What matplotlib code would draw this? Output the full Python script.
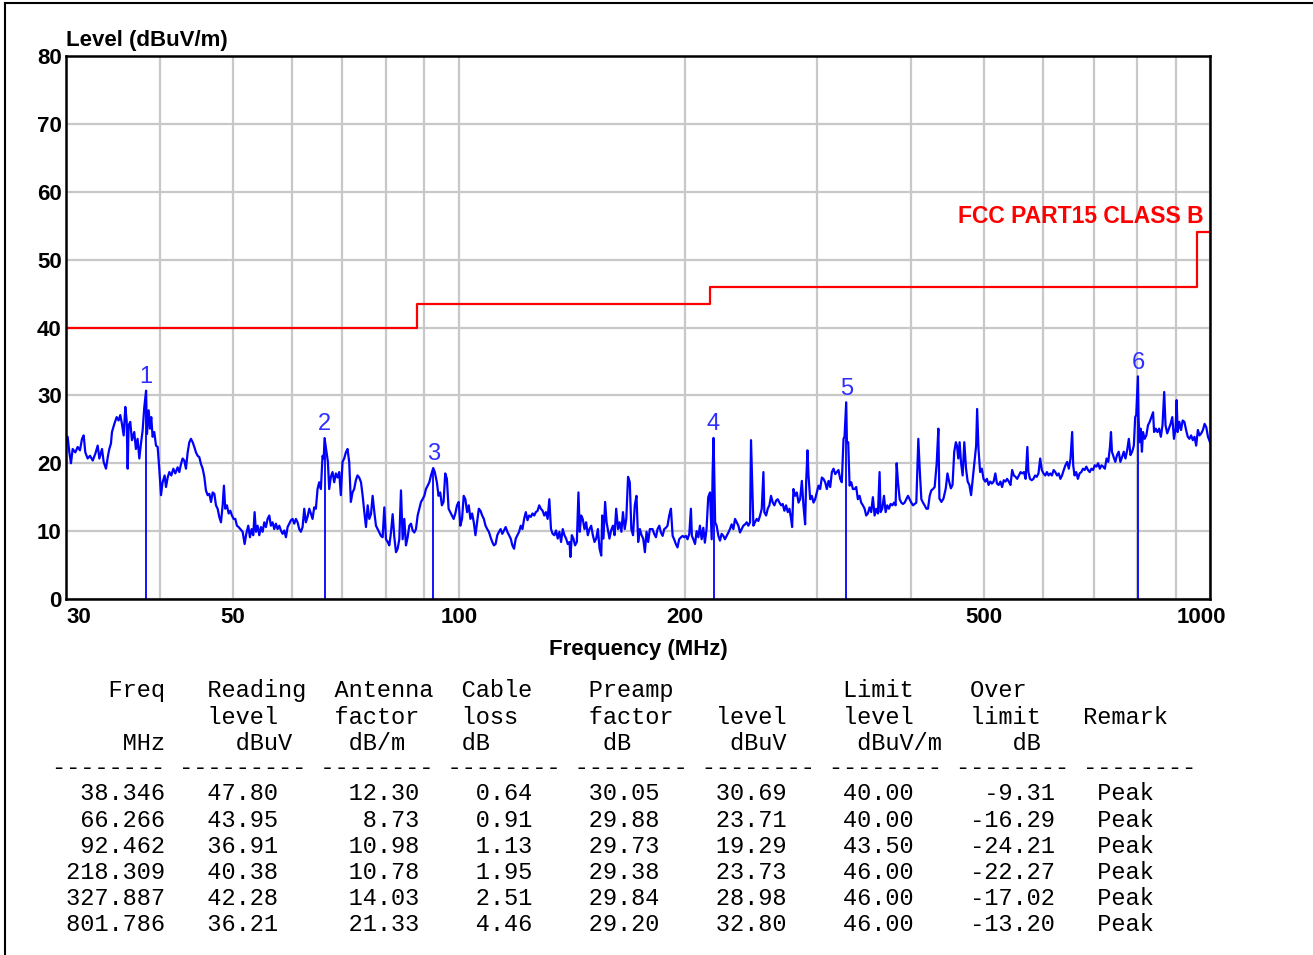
import matplotlib
matplotlib.use("Agg")
import matplotlib.pyplot as plt
from matplotlib.lines import Line2D
from matplotlib.ticker import NullFormatter
from matplotlib.transforms import ScaledTranslation

plt.rcParams['font.family'] = ['Liberation Sans', 'DejaVu Sans']

W, H = 1313, 955

# ---- scan trace (MHz, dBuV/m) ----
f_30_74 = [30.00, 30.15, 30.31, 30.46, 30.62, 30.87, 31.09, 31.31, 31.51, 31.67,
           31.83, 32.06, 32.29, 32.56, 32.82, 33.06, 33.23, 33.50, 33.67, 33.91,
           34.12, 34.26, 34.43, 34.54, 34.79, 35.04, 35.25, 35.43, 35.61, 35.80,
           35.98, 36.13, 36.24, 36.35, 36.53, 36.72, 36.98, 37.17, 37.36, 37.56,
           37.75, 37.94, 38.14, 38.346, 38.45, 38.65, 38.81, 38.96, 39.12, 39.32,
           39.53, 39.73, 39.93, 40.14, 40.34, 40.59, 40.76, 40.97, 41.18, 41.43,
           41.69, 41.94, 42.24, 42.46, 42.68, 42.89, 43.11, 43.33, 43.56, 43.78,
           44.00, 44.23, 44.46, 44.68, 44.91, 45.14, 45.37, 45.61, 45.84, 46.07,
           46.31, 46.55, 46.79, 47.03, 47.27, 47.51, 47.75, 47.99, 48.24, 48.49,
           48.68, 48.88, 49.13, 49.39, 49.64, 49.89, 50.15, 50.41, 50.66, 50.92,
           51.18, 51.55, 51.87, 52.13, 52.45, 52.72, 52.99, 53.26, 53.48, 53.70,
           53.97, 54.25, 54.53, 54.81, 55.09, 55.37, 55.65, 55.94, 56.22, 56.51,
           56.80, 57.09, 57.38, 57.68, 57.97, 58.27, 58.57, 58.87, 59.17, 59.47,
           59.78, 60.08, 60.39, 60.70, 61.01, 61.32, 61.63, 61.95, 62.27, 62.58,
           62.90, 63.23, 63.55, 63.87, 64.20, 64.53, 64.86, 65.19, 65.53, 65.86,
           66.10, 66.266, 66.67, 66.95, 67.22, 67.56, 67.91, 68.26, 68.61, 68.96,
           69.31, 69.66, 70.02, 70.38, 70.74, 71.10, 71.47, 71.83, 72.20, 72.57,
           72.94, 73.31, 73.69]
v_30_74 = [23.1, 23.9, 21.6, 20.0, 22.1, 21.6, 22.4, 21.9, 23.6, 24.1,
           21.6, 20.7, 21.1, 20.4, 21.4, 22.6, 20.7, 22.1, 20.2, 19.2,
           21.1, 22.1, 22.9, 24.6, 25.8, 26.8, 26.3, 27.1, 25.8, 24.1,
           28.3, 26.3, 19.2, 25.6, 26.1, 23.4, 24.6, 22.1, 23.6, 20.7,
           22.9, 24.8, 28.3, 30.69, 24.3, 27.8, 25.1, 26.8, 23.9, 24.6,
           22.6, 22.4, 19.2, 15.3, 17.2, 18.2, 16.5, 17.9, 18.7, 18.2,
           19.2, 18.5, 19.4, 18.7, 19.9, 20.7, 20.4, 19.2, 21.6, 23.1,
           23.6, 23.1, 22.4, 21.6, 21.1, 20.9, 19.9, 19.2, 18.0, 16.0,
           15.3, 15.5, 14.3, 15.7, 15.5, 13.8, 13.3, 12.1, 11.3, 13.8,
           16.7, 13.3, 13.8, 12.6, 13.0, 12.3, 11.8, 11.8, 10.8, 10.6,
           10.3, 9.9, 8.1, 9.6, 10.8, 9.1, 10.3, 9.4, 12.8, 9.9,
           10.8, 9.4, 10.6, 9.9, 11.3, 10.6, 11.8, 12.3, 10.8, 11.3,
           10.3, 11.1, 10.3, 10.8, 10.1, 9.6, 10.1, 9.1, 10.6, 11.1,
           11.6, 11.8, 11.1, 11.8, 11.3, 10.3, 9.9, 10.6, 13.3, 11.3,
           12.1, 13.3, 12.6, 11.8, 13.5, 13.3, 16.2, 17.2, 16.2, 21.1,
           20.7, 23.71, 21.6, 20.2, 16.2, 18.0, 18.7, 17.2, 18.5, 17.9,
           18.7, 15.3, 20.2, 20.7, 21.6, 22.1, 20.2, 14.3, 15.7, 16.2,
           17.5, 18.2, 17.9]

f_74_180 = [74.10, 74.48, 74.86, 75.24, 75.63, 76.01, 76.40, 76.79, 77.19, 77.58,
            77.98, 78.38, 78.78, 79.18, 79.59, 80.00, 80.41, 80.82, 81.23, 81.65,
            82.07, 82.49, 82.91, 83.33, 83.76, 84.19, 84.62, 85.05, 85.49, 85.93,
            86.37, 86.81, 87.25, 87.70, 88.15, 88.60, 89.06, 89.51, 89.97, 90.43,
            90.89, 91.36, 91.83, 92.462, 92.90, 93.50, 93.98, 94.46, 94.95, 95.44,
            95.93, 96.42, 96.92, 97.42, 97.92, 98.43, 98.94, 99.45, 99.96, 100.48,
            101.00, 101.52, 102.04, 102.57, 103.10, 103.63, 104.16, 104.70, 105.24, 105.78,
            106.33, 106.88, 107.43, 107.98, 108.54, 109.10, 109.66, 110.23, 110.80, 111.37,
            111.94, 112.52, 113.10, 113.68, 114.27, 114.86, 115.45, 116.05, 116.65, 117.25,
            117.85, 118.46, 119.07, 119.69, 120.30, 120.92, 121.55, 122.17, 122.80, 123.44,
            124.07, 124.71, 125.36, 126.00, 126.65, 127.31, 127.96, 128.62, 129.29, 129.96,
            130.63, 131.30, 131.98, 132.66, 133.34, 134.03, 134.72, 135.42, 136.12, 136.82,
            137.53, 138.24, 138.95, 139.67, 140.39, 140.80, 141.40, 142.10, 142.80, 143.60,
            144.30, 144.90, 145.50, 146.20, 147.00, 147.75, 148.51, 149.28, 150.05, 150.82,
            151.60, 152.38, 153.17, 153.96, 154.75, 155.20, 155.80, 156.60, 157.30, 157.90,
            158.70, 159.50, 160.40, 161.20, 162.00, 162.90, 163.70, 164.60, 165.40, 166.30,
            167.10, 168.00, 168.90, 169.70, 170.60, 171.50, 172.40, 173.30, 174.20, 175.10,
            176.00, 176.90, 177.80, 178.70, 179.60]
v_74_180 = [17.2, 15.2, 12.8, 10.6, 13.8, 11.8, 12.5, 15.2, 12.8, 10.8,
            10.3, 9.8, 9.3, 9.1, 13.5, 8.8, 8.4, 7.9, 9.8, 12.5,
            9.1, 6.9, 7.4, 8.8, 16.0, 8.8, 11.8, 7.9, 9.1, 10.8,
            11.1, 10.1, 9.8, 10.3, 12.3, 13.3, 14.3, 14.7, 15.2, 16.2,
            16.7, 17.2, 18.2, 19.29, 18.7, 17.2, 15.2, 15.7, 13.8, 14.3,
            18.5, 17.7, 13.3, 12.8, 12.3, 11.8, 12.6, 13.8, 14.3, 10.8,
            11.8, 15.2, 14.7, 12.8, 13.8, 11.8, 12.6, 11.3, 9.4, 11.3,
            13.3, 13.0, 12.3, 11.8, 10.8, 10.3, 9.9, 9.1, 8.4, 7.9,
            8.1, 9.4, 9.9, 10.3, 9.6, 10.1, 10.6, 9.9, 9.4, 8.9,
            7.9, 7.4, 8.9, 9.4, 9.9, 10.8, 10.3, 11.8, 12.8, 11.6,
            12.3, 12.1, 12.6, 12.3, 12.8, 13.0, 13.8, 13.3, 13.0, 12.3,
            12.8, 11.8, 14.7, 10.3, 9.6, 9.4, 10.1, 8.9, 9.9, 8.4,
            10.3, 9.4, 8.9, 8.1, 8.4, 6.2, 9.4, 8.9, 7.9, 8.4,
            15.7, 9.9, 12.3, 11.8, 10.3, 11.3, 9.4, 10.3, 10.8, 9.4,
            8.4, 8.9, 10.3, 7.4, 6.4, 12.3, 8.9, 14.3, 11.3, 10.3,
            8.9, 10.1, 10.8, 9.4, 13.3, 10.3, 11.3, 9.9, 12.8, 10.3,
            11.8, 18.0, 17.2, 10.3, 9.4, 13.8, 15.2, 8.4, 10.3, 9.4,
            8.9, 6.9, 9.9, 8.4, 10.3]

f_180_430 = [181.1, 182.0, 183.0, 183.9, 184.9, 185.8, 186.8, 187.7, 188.7, 189.6,
             190.6, 191.6, 192.6, 193.5, 194.5, 195.5, 196.5, 197.6, 198.6, 199.6,
             200.6, 201.6, 202.7, 203.7, 204.3, 205.2, 206.3, 207.3, 208.4, 209.4,
             210.5, 211.6, 212.6, 213.7, 214.8, 216.0, 217.1, 217.7, 218.309, 218.8,
             219.4, 220.4, 221.6, 222.7, 223.8, 225.0, 226.1, 227.3, 228.5, 229.6,
             230.8, 232.0, 233.2, 234.4, 235.6, 236.8, 238.0, 239.2, 240.5, 241.7,
             242.9, 244.2, 244.9, 245.7, 246.7, 247.9, 249.2, 250.5, 251.8, 253.1,
             254.4, 255.1, 256.5, 257.8, 259.1, 260.4, 261.8, 263.1, 264.5, 265.8,
             267.2, 268.6, 269.9, 271.3, 272.7, 274.1, 275.5, 276.9, 277.8, 278.9,
             280.4, 281.8, 283.3, 284.7, 286.2, 287.6, 289.1, 290.0, 291.2, 292.1,
             293.6, 295.1, 296.6, 298.1, 299.6, 301.2, 302.7, 304.3, 305.8, 307.4,
             309.0, 310.6, 312.2, 313.8, 315.4, 317.0, 318.6, 320.2, 321.9, 323.5,
             325.2, 326.2, 327.887, 328.6, 329.9, 331.3, 333.0, 334.7, 336.4, 338.1,
             339.8, 341.6, 343.3, 345.1, 346.9, 348.6, 350.4, 352.2, 354.0, 355.8,
             357.7, 359.5, 361.4, 363.2, 364.3, 366.2, 368.1, 370.0, 371.9, 373.8,
             375.7, 377.7, 379.6, 381.5, 382.7, 384.3, 386.3, 388.2, 390.2, 392.2,
             394.2, 396.2, 398.3, 400.3, 402.4, 404.4, 406.5, 409.0, 410.7, 412.8,
             414.9, 417.0, 419.2, 421.3, 423.5, 425.6, 427.8, 430.0]
v_180_430 = [10.3, 9.6, 9.1, 10.3, 10.8, 9.8, 9.3, 10.3, 10.5, 10.8,
             12.3, 13.3, 9.3, 8.8, 8.1, 7.6, 8.8, 9.1, 9.3, 9.1,
             9.3, 8.8, 9.6, 13.3, 9.3, 8.8, 8.1, 10.0, 9.1, 10.8,
             8.8, 10.5, 8.3, 10.3, 15.0, 15.7, 8.8, 18.4, 23.73, 18.7,
             11.3, 10.8, 9.3, 8.6, 9.6, 9.3, 8.8, 9.3, 9.8, 10.3,
             11.0, 10.3, 11.8, 11.3, 10.8, 9.8, 10.3, 10.8, 11.0, 11.3,
             10.8, 11.3, 23.4, 17.9, 10.8, 11.3, 11.8, 11.5, 12.3, 13.3,
             18.7, 12.8, 12.3, 13.3, 13.8, 15.2, 14.2, 13.8, 14.5, 14.7,
             14.2, 13.8, 14.0, 13.0, 13.8, 12.8, 13.3, 11.8, 10.6, 16.2,
             15.2, 15.7, 14.2, 14.7, 17.4, 13.8, 11.0, 17.2, 21.9, 18.2,
             14.7, 15.2, 14.2, 14.7, 15.7, 16.7, 16.2, 17.9, 17.7, 17.2,
             16.2, 17.4, 16.5, 18.7, 19.2, 18.4, 18.7, 19.0, 17.7, 17.2,
             23.6, 23.9, 28.98, 23.1, 23.1, 16.7, 17.2, 16.2, 16.2, 16.5,
             14.7, 15.2, 14.2, 13.8, 13.3, 12.3, 12.6, 13.5, 12.8, 15.0,
             12.3, 13.3, 12.6, 18.7, 12.8, 13.3, 15.2, 12.8, 13.8, 13.3,
             14.0, 13.8, 14.2, 13.8, 20.0, 17.2, 14.7, 14.2, 14.0, 14.2,
             14.7, 15.2, 14.7, 14.2, 13.8, 14.0, 14.2, 23.6, 19.2, 14.7,
             14.2, 13.8, 13.3, 13.3, 15.2, 16.0, 16.2, 16.5]

f_430_1000 = [432.7, 434.9, 436.3, 439.0, 441.8, 444.9, 447.2, 449.5, 451.9, 454.2,
              456.6, 458.9, 460.4, 462.3, 464.2, 466.1, 468.5, 470.9, 473.4, 475.8,
              478.3, 480.8, 483.3, 485.8, 488.3, 489.8, 491.8, 494.3, 496.9, 499.5,
              502.1, 504.7, 507.3, 509.9, 512.5, 515.2, 517.9, 520.5, 523.2, 526.0,
              528.7, 531.4, 534.2, 536.9, 539.7, 542.5, 545.3, 548.1, 551.0, 553.8,
              556.7, 559.6, 562.5, 565.4, 568.3, 571.3, 573.1, 576.0, 579.0, 582.0,
              585.0, 588.0, 591.1, 594.2, 597.2, 600.3, 603.5, 606.6, 609.7, 612.9,
              616.0, 619.2, 622.4, 625.7, 628.9, 632.2, 635.4, 638.7, 642.0, 645.4,
              648.7, 652.1, 655.4, 657.5, 660.2, 663.6, 667.0, 670.5, 674.0, 677.5,
              681.0, 684.5, 688.1, 691.6, 695.2, 698.8, 702.4, 706.1, 709.7, 713.4,
              717.1, 720.8, 724.5, 728.3, 732.1, 735.9, 738.2, 740.4, 744.3, 748.1,
              752.0, 755.9, 759.8, 763.7, 767.7, 771.7, 775.7, 779.7, 783.7, 787.8,
              791.8, 795.1, 797.6, 801.786, 803.4, 805.9, 808.4, 811.7, 814.3, 818.5,
              822.7, 826.9, 831.2, 835.5, 839.9, 842.5, 846.8, 851.2, 855.6, 860.1,
              864.5, 869.0, 872.6, 877.1, 881.6, 886.2, 890.8, 895.4, 900.0, 902.8,
              905.6, 910.3, 915.0, 919.7, 924.5, 929.3, 934.1, 938.9, 943.8, 948.7,
              953.6, 958.5, 963.5, 968.5, 973.5, 978.5, 983.6, 988.7, 993.8, 1000.0]
v_430_1000 = [20.0, 25.1, 14.8, 14.3, 14.8, 16.3, 18.5, 17.3, 16.3, 16.8,
              21.7, 23.1, 22.6, 20.7, 23.1, 20.2, 18.2, 23.1, 19.2, 17.3,
              16.8, 15.3, 17.7, 20.2, 22.6, 28.0, 22.2, 18.7, 19.2, 17.7,
              17.3, 17.7, 16.8, 17.3, 17.0, 17.3, 18.5, 17.0, 16.8, 17.3,
              16.5, 17.5, 17.3, 17.7, 17.3, 16.8, 19.0, 18.2, 18.0, 17.7,
              18.2, 18.7, 18.5, 18.7, 17.7, 22.4, 18.7, 17.7, 17.5, 17.7,
              18.2, 18.0, 18.5, 20.7, 19.0, 18.5, 18.2, 18.7, 18.2, 18.5,
              18.2, 19.0, 18.7, 18.2, 18.5, 17.7, 18.2, 19.0, 19.7, 20.2,
              19.2, 20.7, 24.6, 19.7, 18.2, 18.7, 17.7, 18.5, 18.7, 19.2,
              19.0, 19.5, 19.0, 18.7, 19.2, 19.0, 19.7, 19.5, 20.0, 19.2,
              19.7, 19.5, 19.2, 20.7, 20.2, 22.4, 24.6, 21.7, 20.9, 20.2,
              21.2, 21.7, 20.2, 20.9, 21.7, 20.7, 21.9, 23.6, 21.2, 21.7,
              22.6, 26.8, 27.1, 32.80, 26.6, 23.1, 25.1, 21.7, 24.6, 23.6,
              24.1, 25.6, 26.1, 26.8, 27.5, 24.6, 25.1, 24.6, 25.1, 23.9,
              25.6, 30.5, 25.6, 24.4, 25.1, 25.8, 26.8, 23.6, 25.1, 29.3,
              24.6, 26.1, 24.9, 26.3, 26.1, 24.9, 23.9, 23.6, 24.1, 23.4,
              23.9, 22.6, 24.9, 24.1, 24.4, 24.9, 25.8, 25.3, 23.9, 23.1]

# ---- FCC Part 15 class B limit ----
lim_freq = [30, 88, 216, 960, 1000]
lim_level = [40.0, 43.5, 46.0, 54.0, 54.0]

# ---- marker table ----
mk_freq = [38.346, 66.266, 92.462, 218.309, 327.887, 801.786]
mk_reading = [47.80, 43.95, 36.91, 40.38, 42.28, 36.21]
mk_antenna = [12.30, 8.73, 10.98, 10.78, 14.03, 21.33]
mk_cable = [0.64, 0.91, 1.13, 1.95, 2.51, 4.46]
mk_preamp = [30.05, 29.88, 29.73, 29.38, 29.84, 29.20]
mk_level = [30.69, 23.71, 19.29, 23.73, 28.98, 32.80]
mk_limit = [40.00, 40.00, 43.50, 46.00, 46.00, 46.00]
mk_over = [-9.31, -16.29, -24.21, -22.27, -17.02, -13.20]
mk_remark = ['Peak'] * 6

xtick_vals = [30, 50, 100, 200, 500, 1000]
xgrid_vals = [40, 60, 70, 80, 90, 300, 400, 600, 700, 800, 900]
ytick_vals = [0, 10, 20, 30, 40, 50, 60, 70, 80]

freq = f_30_74 + f_74_180 + f_180_430 + f_430_1000
level = v_30_74 + v_74_180 + v_180_430 + v_430_1000

fig = plt.figure(figsize=(W / 100, H / 100), dpi=100)
ax = fig.add_axes([66 / W, 1 - 599 / H, 1144 / W, 543 / H])
ax.set_xscale('log')
ax.set_xlim(30, 1000)
ax.set_ylim(0, 80)

ax.set_xticks(xtick_vals)
ax.set_xticklabels([str(v) for v in xtick_vals])
ax.set_xticks(xgrid_vals, minor=True)
ax.xaxis.set_minor_formatter(NullFormatter())
ax.set_yticks(ytick_vals)
ax.grid(True, which='both', color='#c8c8c8', lw=1.6)
ax.set_axisbelow(True)
ax.tick_params(which='both', length=0)
ax.tick_params(axis='x', pad=6, labelsize=16)
ax.tick_params(axis='y', pad=3, labelsize=16)
for lab in ax.get_xticklabels() + ax.get_yticklabels():
    lab.set_fontweight('bold')
xl = ax.get_xticklabels()
xl[0].set_ha('left')
xl[-1].set_transform(xl[-1].get_transform() + ScaledTranslation(-0.09, 0, fig.dpi_scale_trans))
for s in ax.spines.values():
    s.set_linewidth(1.8)
    s.set_color('black')

ax.plot(lim_freq, lim_level, drawstyle='steps-post', color='#ff0000', lw=1.6)
ax.plot(freq, level, color='#0000ff', lw=1.6)
ax.vlines(mk_freq, 0, mk_level, color='#0000ff', lw=1.3)
for i, (f, v) in enumerate(zip(mk_freq, mk_level)):
    ax.annotate(str(i + 1), (f, v), xytext=(0, 2), textcoords='offset points',
                ha='center', va='bottom', color='#2f2fff', fontsize=17)

ax.text(982, 56.4, 'FCC PART15 CLASS B', color='#ff0000', fontsize=16.5,
        fontweight='bold', ha='right', va='center')
ax.text(0, 1.019, 'Level (dBuV/m)', transform=ax.transAxes, ha='left',
        va='baseline', fontsize=16, fontweight='bold')
ax.set_xlabel('Frequency (MHz)', fontsize=16, fontweight='bold', labelpad=8)

# ---- fixed-width result table below the plot ----
rows = [
    "    Freq   Reading  Antenna  Cable    Preamp            Limit    Over",
    "           level    factor   loss     factor   level    level    limit   Remark",
    "     MHz     dBuV    dB/m    dB        dB       dBuV     dBuV/m     dB",
    "-" * 8 + " " + "-" * 9 + (" " + "-" * 8) * 7,
]
for k in range(len(mk_freq)):
    rows.append(f"{mk_freq[k]:8.3f}{mk_reading[k]:8.2f}{mk_antenna[k]:10.2f}"
                f"{mk_cable[k]:8.2f}{mk_preamp[k]:9.2f}{mk_level[k]:9.2f}"
                f"{mk_limit[k]:9.2f}{mk_over[k]:10.2f}   {mk_remark[k]}")
row_y = [691, 717, 743, 767, 794, 820, 846.5, 872.5, 898.5, 924.5]
for txt, y in zip(rows, row_y):
    fig.text(52.5 / W, 1 - y / H, txt, family='Liberation Mono', fontsize=17,
             ha='left', va='center')

# outer frame of the report page
fig.add_artist(Line2D([5 / W, 5 / W], [0, 1 - 3 / H], color='black', lw=1.5,
                      transform=fig.transFigure))
fig.add_artist(Line2D([5 / W, 1], [1 - 3 / H, 1 - 3 / H], color='black', lw=1.5,
                      transform=fig.transFigure))

fig.savefig('out.png', dpi=100)
